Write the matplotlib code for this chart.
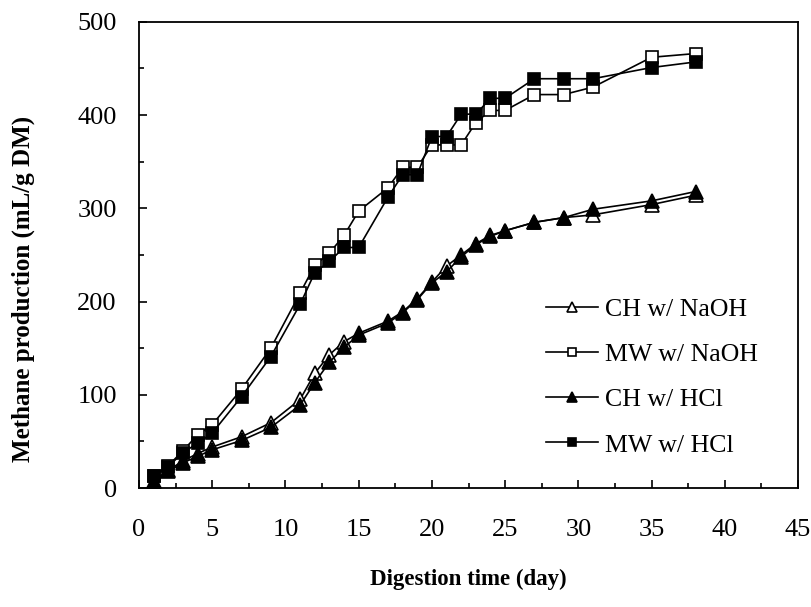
import matplotlib
matplotlib.use("Agg")
import matplotlib.pyplot as plt
from matplotlib.ticker import MultipleLocator

days = [1, 2, 3, 4, 5, 7, 9, 11, 12, 13, 14, 15, 17, 18, 19, 20, 21, 22, 23, 24, 25, 27, 29, 31, 35, 38]
ch_naoh = [8, 19, 29, 37, 44, 55, 70, 95, 123, 143, 157, 166, 179, 189, 203, 221, 238, 250, 262, 271, 276, 285, 290, 293, 304, 314]
mw_naoh = [13, 24, 40, 57, 68, 106, 150, 209, 239, 252, 271, 297, 322, 344, 344, 368, 368, 368, 392, 405, 405, 422, 422, 430, 462, 466]
ch_hcl = [5, 18, 27, 34, 41, 51, 65, 89, 113, 135, 151, 164, 177, 188, 202, 220, 232, 248, 261, 270, 276, 285, 290, 299, 308, 318]
mw_hcl = [13, 23, 38, 48, 59, 98, 141, 197, 231, 243, 258, 258, 312, 336, 336, 377, 377, 401, 401, 418, 418, 439, 439, 439, 451, 457]
labels = ["CH w/ NaOH", "MW w/ NaOH", "CH w/ HCl", "MW w/ HCl"]

plt.rcParams['font.family'] = ['Liberation Serif', 'DejaVu Serif']

fig = plt.figure(figsize=(8.11, 6.07), dpi=100)
ax = fig.add_axes([0.1714, 0.196, 0.8126, 0.768])

lw = 1.2
ax.plot(days, ch_naoh, '-', color='black', lw=lw, marker='^', ms=9.5, mfc='white', mec='black', mew=1.2, label=labels[0])
ax.plot(days, mw_naoh, '-', color='black', lw=lw, marker='s', ms=8.5, mfc='white', mec='black', mew=1.2, label=labels[1])
ax.plot(days, ch_hcl, '-', color='black', lw=lw, marker='^', ms=9.5, mfc='black', mec='black', mew=1.2, label=labels[2])
ax.plot(days, mw_hcl, '-', color='black', lw=lw, marker='s', ms=8.5, mfc='black', mec='black', mew=1.2, label=labels[3])

ax.set_xlim(0, 45)
ax.set_ylim(0, 500)
ax.xaxis.set_major_locator(MultipleLocator(5))
ax.xaxis.set_minor_locator(MultipleLocator(2.5))
ax.yaxis.set_major_locator(MultipleLocator(100))
ax.yaxis.set_minor_locator(MultipleLocator(50))
ax.tick_params(which='both', direction='in', top=False, right=False, labelsize=19, width=1.2)
ax.tick_params(which='major', length=6)
ax.tick_params(axis='y', which='major', pad=16)
ax.tick_params(axis='x', which='major', pad=22)
ax.tick_params(which='minor', length=3.5)
for s in ax.spines.values():
    s.set_linewidth(1.3)

ax.set_xlabel('Digestion time (day)', fontsize=16.5, fontweight='bold', labelpad=20)
ax.set_ylabel('Methane production (mL/g DM)', fontsize=18, fontweight='bold')
ax.yaxis.set_label_coords(-0.158, 0.427)

leg = ax.legend(loc='upper left', bbox_to_anchor=(0.6176, 0.407), frameon=False, fontsize=18.6,
                markerscale=0.75, labelspacing=0.85, handlelength=2.0, handletextpad=0.27,
                borderpad=0, borderaxespad=0)

fig.savefig('out.png', dpi=100)
